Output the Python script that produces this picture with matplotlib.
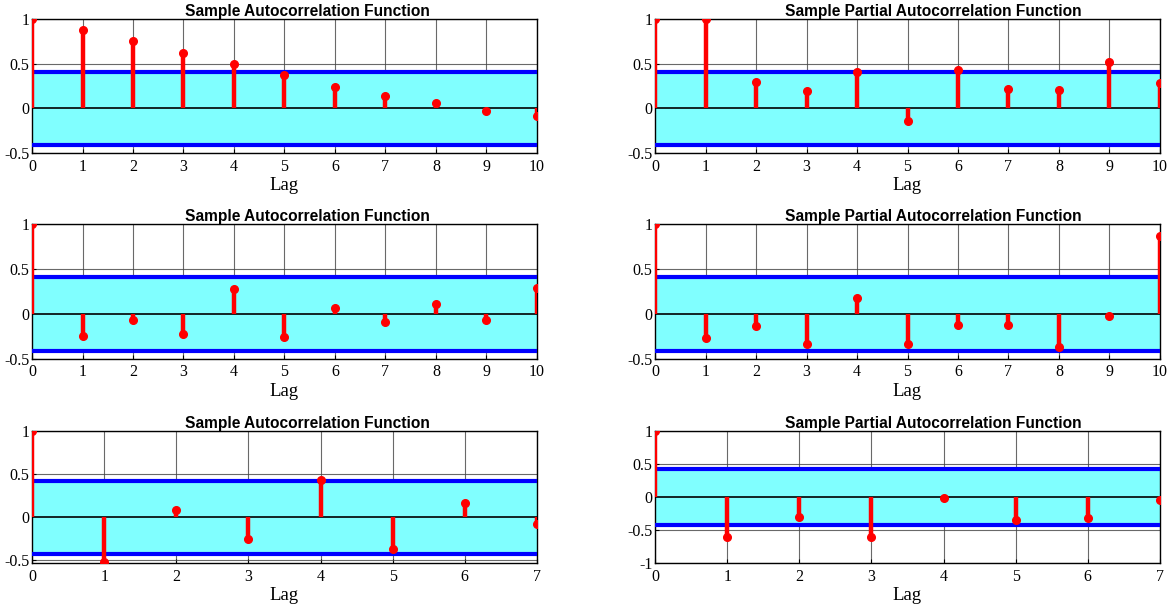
import matplotlib.pyplot as plt
import numpy as np

# --- Données ---
acf1 = [1.0, 0.87, 0.75, 0.62, 0.49, 0.37, 0.24, 0.14, 0.06, -0.03, -0.09]
pacf1 = [1.0, 1.0, 0.29, 0.19, 0.40, -0.14, 0.43, 0.21, 0.20, 0.52, 0.28]
acf2 = [1.0, -0.25, -0.07, -0.22, 0.28, -0.26, 0.06, -0.09, 0.11, -0.07, 0.29]
pacf2 = [1.0, -0.27, -0.14, -0.34, 0.18, -0.34, -0.12, -0.12, -0.37, -0.02, 0.87]
acf3 = [1.0, -0.52, 0.09, -0.25, 0.43, -0.37, 0.17, -0.08]
pacf3 = [1.0, -0.60, -0.30, -0.60, -0.02, -0.34, -0.32, -0.05]

bounds = [0.41, 0.41, 0.41, 0.41, 0.42, 0.43]
ylims = [(-0.5, 1), (-0.5, 1), (-0.5, 1), (-0.5, 1), (-0.53, 1), (-1, 1)]
yticks = [[-0.5, 0, 0.5, 1]] * 5 + [[-1, -0.5, 0, 0.5, 1]]
titles = ["Sample Autocorrelation Function", "Sample Partial Autocorrelation Function"] * 3
series = [acf1, pacf1, acf2, pacf2, acf3, pacf3]

# positions des axes (fraction de la figure)
lefts = [0.0273, 0.558]
bottoms = [0.748, 0.409, 0.0725]
heights = [0.221, 0.222, 0.217]
title_x = [0.545, 0.551]

fig = plt.figure(figsize=(11.74, 6.07), dpi=100)

for i, vals in enumerate(series):
    row, col = divmod(i, 2)
    ax = fig.add_axes([lefts[col], bottoms[row], 0.43, heights[row]])
    lags = np.arange(len(vals))
    b = bounds[i]
    nmax = lags[-1]

    # bande de confiance
    ax.fill_between([0, nmax], -b, b, color='#80ffff', zorder=1)
    ax.axhline(b, color='#0000ff', linewidth=3, zorder=3)
    ax.axhline(-b, color='#0000ff', linewidth=3, zorder=3)
    ax.axhline(0, color='black', linewidth=1.2, zorder=2)

    # tiges
    ax.vlines(lags, 0, vals, color='red', linewidth=3.2, zorder=4)
    ax.plot(lags, vals, 'o', color='red', markersize=5.5, zorder=5)

    ax.set_xlim(0, nmax)
    ax.set_ylim(*ylims[i])
    ax.set_xticks(lags)
    ax.set_yticks(yticks[i])
    ax.set_yticklabels([f"{t:g}" for t in yticks[i]])
    ax.grid(True, color='#444444', linewidth=0.8, alpha=0.8, zorder=0)
    ax.set_axisbelow(True)
    ax.tick_params(direction='in', length=3, labelsize=11.5)
    ax.tick_params(axis='x', pad=4)
    ax.tick_params(axis='y', pad=2)
    for lab in ax.get_xticklabels() + ax.get_yticklabels():
        lab.set_family('Liberation Serif')
    for s in ax.spines.values():
        s.set_linewidth(1.0)
    ax.set_title(titles[i], fontsize=11.2, fontweight='bold',
                 family='Liberation Sans', pad=1, x=title_x[col])
    ax.set_xlabel("Lag", fontsize=13.5, family='Liberation Serif', labelpad=2)

fig.savefig("out.png", dpi=100)
